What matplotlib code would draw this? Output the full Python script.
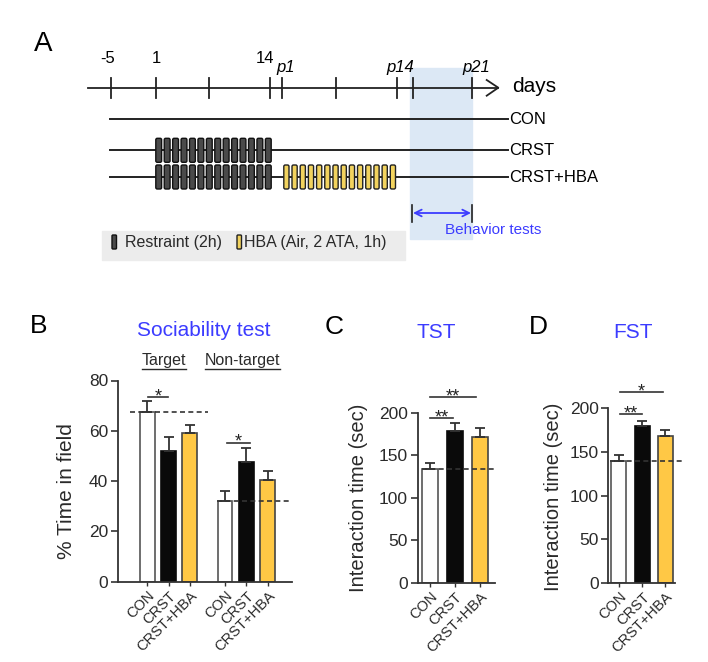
import numpy as np
import matplotlib
matplotlib.use("Agg")
import matplotlib.pyplot as plt
from matplotlib.patches import Rectangle, FancyBboxPatch

plt.rcParams['font.family'] = ['Liberation Sans', 'DejaVu Sans']

# ---- data ----
groups = ['CON', 'CRST', 'CRST+HBA']
bar_colors = ['white', '#0a0a0a', '#FFC845']

soc_target_mean = [67.5, 52, 59]
soc_target_sem = [4.5, 5.5, 3.5]
soc_nontarget_mean = [32, 47.5, 40.5]
soc_nontarget_sem = [4, 5.5, 3.5]

tst_mean = [134, 178, 171]
tst_sem = [7, 10, 11]

fst_mean = [139, 180, 168]
fst_sem = [8, 6, 7]

# timeline (schematic, panel A)
tl_tick_labels = ['-5', '1', '', '14', 'p1', '', 'p14', '', 'p21']
tl_tick_x = [110.7, 156, 209, 270, 281.7, 336, 396.7, 413.3, 472]
n_restraint = 14
n_hba = 14

W, H = 708, 662
BLUE = '#3c3cff'
DARK = '#2a2a2a'

fig = plt.figure(figsize=(W / 100, H / 100), dpi=100)

# overlay axes in pixel coordinates for the schematic and the panel texts
axA = fig.add_axes([0, 0, 1, 1])
axA.set_xlim(0, W)
axA.set_ylim(H, 0)
axA.axis('off')


def px_axes(left, top, right, bottom):
    ax = fig.add_axes([left / W, 1 - bottom / H, (right - left) / W, (bottom - top) / H])
    ax.set_facecolor('none')
    return ax


# ---------------- panel A ----------------
axA.text(43, 44, 'A', fontsize=20, ha='center', va='center')

# behaviour test window
axA.add_patch(Rectangle((410, 67.7), 62, 171, color='#dce8f5', zorder=0))

# day axis
axA.plot([88, 498], [87.7, 87.7], color='#222', lw=1.3)
axA.plot([486.7, 498.3, 486.7], [80, 87.7, 95.7], color='#222', lw=1.3)
for x, lab in zip(tl_tick_x, tl_tick_labels):
    axA.plot([x, x], [77.7, 98.3], color='#222', lw=1.3)
    if lab.startswith('p'):
        axA.text(x + 4, 72, lab, fontsize=12, style='italic', ha='center', va='baseline')
    elif lab:
        dx = -5 if lab == '14' else (-3 if lab == '-5' else 0)
        axA.text(x + dx, 63.3, lab, fontsize=12, ha='center', va='baseline')
axA.text(512, 87, 'days', fontsize=15, ha='left', va='center')

# group rows
row_y = [119.3, 150.3, 177]
for y, g in zip(row_y, groups):
    axA.plot([109.5, 508], [y, y], color='#222', lw=1.4, zorder=2)
    axA.text(509, y, g, fontsize=12, ha='left', va='center')

r_x0, r_x1 = 155.3, 273.3
r_pitch = (r_x1 - r_x0) / n_restraint
h_x0, h_x1 = 283.3, 398
h_pitch = (h_x1 - h_x0) / n_hba
for y in row_y[1:]:
    for i in range(n_restraint):
        axA.add_patch(FancyBboxPatch((r_x0 + i * r_pitch + 0.5, y - 12), r_pitch - 2.6, 24,
                                     boxstyle='round,pad=0,rounding_size=1.5',
                                     fc='#4a4a4a', ec='#111', lw=1.0, zorder=3))
for i in range(n_hba):
    axA.add_patch(FancyBboxPatch((h_x0 + i * h_pitch + 0.5, row_y[2] - 12), h_pitch - 3, 24,
                                 boxstyle='round,pad=0,rounding_size=1.5',
                                 fc='#F2D35E', ec='#222', lw=1.0, zorder=3))

# behaviour tests arrow
axA.annotate('', xy=(471, 213), xytext=(413, 213),
             arrowprops=dict(arrowstyle='<->', color=BLUE, lw=1.3, mutation_scale=12,
                             shrinkA=0, shrinkB=0))
for x in (412.3, 471.8):
    axA.plot([x, x], [204.5, 221.5], color='#222', lw=1.2)
axA.text(493, 230, 'Behavior tests', fontsize=11, color=BLUE, ha='center', va='center')

# legend
axA.add_patch(Rectangle((101.7, 231), 303.3, 29, color='#ececec', zorder=0))
axA.add_patch(FancyBboxPatch((112, 235), 4.5, 14, boxstyle='round,pad=0,rounding_size=1',
                             fc='#4a4a4a', ec='#111', lw=1.0))
axA.text(125, 242, 'Restraint (2h)', fontsize=11.5, color=DARK, ha='left', va='center')
axA.add_patch(FancyBboxPatch((237, 235), 4.5, 14, boxstyle='round,pad=0,rounding_size=1',
                             fc='#F2D35E', ec='#222', lw=1.0))
axA.text(244, 242, 'HBA (Air, 2 ATA, 1h)', fontsize=11.5, color=DARK, ha='left', va='center')

# ---------------- panel texts B/C/D ----------------
axA.text(39, 326, 'B', fontsize=19, ha='center', va='center')
axA.text(204, 331, 'Sociability test', fontsize=15, color=BLUE, ha='center', va='center')
axA.text(334, 326.5, 'C', fontsize=19, ha='center', va='center')
axA.text(436.7, 332, 'TST', fontsize=15, color=BLUE, ha='center', va='center')
axA.text(538, 326.5, 'D', fontsize=19, ha='center', va='center')
axA.text(633, 332, 'FST', fontsize=15, color=BLUE, ha='center', va='center')

sub_texts = []
for x, s in ((164, 'Target'), (242.5, 'Non-target')):
    sub_texts.append(axA.text(x, 365.5, s, fontsize=11.5, color=DARK, ha='center', va='baseline'))


def style_bar_axes(ax, yticks, fs):
    for side in ('top', 'right'):
        ax.spines[side].set_visible(False)
    for side in ('left', 'bottom'):
        ax.spines[side].set_color('#333')
        ax.spines[side].set_linewidth(1.3)
    ax.set_yticks(yticks)
    ax.tick_params(axis='y', length=5, width=1.2, color='#333', labelsize=fs,
                   labelcolor=DARK, pad=2)
    ax.tick_params(axis='x', length=3, width=1.0, color='#333', labelsize=10.5,
                   labelcolor=DARK, pad=2)


def draw_bars(ax, x, mean, sem, width):
    ax.bar(x, mean, width=width, color=bar_colors, edgecolor=['#555', '#0a0a0a', '#444'],
           linewidth=1.2, zorder=2)
    ax.errorbar(x, mean, yerr=[np.zeros(len(sem)), sem], fmt='none', ecolor='#333',
                elinewidth=1.3, capsize=3.5, capthick=1.3, zorder=3)


def sig(ax, x0, x1, y, s):
    ax.plot([x0, x1], [y, y], color='#333', lw=1.2, clip_on=False)
    ax.annotate(s, xy=((x0 + x1) / 2, y), xytext=(0, -3), textcoords='offset points',
                ha='center', va='baseline', fontsize=13, color='#222', annotation_clip=False)


def xlabels(ax, x):
    ax.set_xticks(x)
    ax.set_xticklabels(groups * (len(x) // 3), rotation=45, ha='right', va='top',
                       rotation_mode='anchor')


# ---------------- panel B ----------------
axB = px_axes(118, 380.5, 291.7, 581.7)
xt = np.arange(3)
xn = xt + 3.65
draw_bars(axB, xt, soc_target_mean, soc_target_sem, 0.7)
draw_bars(axB, xn, soc_nontarget_mean, soc_nontarget_sem, 0.7)
axB.plot([-0.8, 2.87], [soc_target_mean[0]] * 2, ls=(0, (3, 2)), color='#333', lw=1.2, zorder=4)
axB.plot([3.26, 6.78], [soc_nontarget_mean[0]] * 2, ls=(0, (3, 2)), color='#333', lw=1.2,
         zorder=4, clip_on=False)
sig(axB, 0.05, 0.99, 73.4, '*')
sig(axB, 3.76, 4.83, 55.3, '*')
axB.set_xlim(-1.37, 6.78)
axB.set_ylim(0, 80)
style_bar_axes(axB, [0, 20, 40, 60, 80], 12.5)
xlabels(axB, np.concatenate([xt, xn]))
axB.set_ylabel('% Time in field', fontsize=15, color=DARK, va='center')
axB.yaxis.set_label_coords(-0.299, 0.45)

# ---------------- panel C ----------------
axC = px_axes(417.7, 412.7, 495, 582.7)
xc = np.arange(3)
draw_bars(axC, xc, tst_mean, tst_sem, 0.667)
axC.plot([-0.33, 2.6], [tst_mean[0]] * 2, ls=(0, (3, 2)), color='#333', lw=1.2, zorder=4,
         clip_on=False)
sig(axC, 0.0, 0.93, 193.5, '**')
sig(axC, 0.0, 1.84, 218, '**')
axC.set_xlim(-0.49, 2.6)
axC.set_ylim(0, 200)
style_bar_axes(axC, [0, 50, 100, 150, 200], 12.5)
xlabels(axC, xc)
axC.set_ylabel('Interaction time (sec)', fontsize=14.5, color=DARK, va='center')
axC.yaxis.set_label_coords(-0.772, 0.498)

# ---------------- panel D ----------------
axD = px_axes(608.3, 408.3, 675, 582.7)
xd = np.arange(3)
draw_bars(axD, xd, fst_mean, fst_sem, 0.645)
axD.plot([-0.39, 2.7], [fst_mean[0]] * 2, ls=(0, (3, 2)), color='#333', lw=1.2, zorder=4,
         clip_on=False)
sig(axD, 0.04, 0.97, 193, '**')
sig(axD, 0.04, 1.91, 218.5, '*')
axD.set_xlim(-0.46, 2.41)
axD.set_ylim(0, 200)
style_bar_axes(axD, [0, 50, 100, 150, 200], 12.5)
xlabels(axD, xd)
axD.set_ylabel('Interaction time (sec)', fontsize=14.5, color=DARK, va='center')
axD.yaxis.set_label_coords(-0.829, 0.493)

# underline "Target" / "Non-target"
fig.canvas.draw()
inv = axA.transData.inverted()
for t in sub_texts:
    bb = t.get_window_extent()
    (x0, _), (x1, _) = inv.transform([(bb.x0, bb.y0), (bb.x1, bb.y0)])
    axA.plot([x0, x1], [368.8, 368.8], color=DARK, lw=1.0)

fig.savefig('out.png', dpi=100)
